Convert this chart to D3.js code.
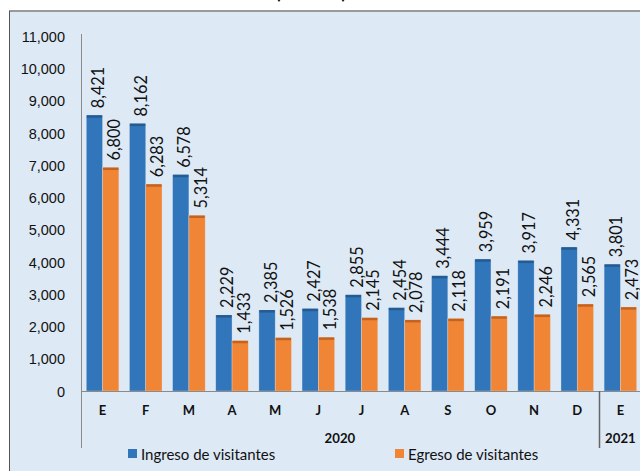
<!DOCTYPE html>
<html>
<head>
<meta charset="utf-8">
<script src="https://cdn.jsdelivr.net/npm/d3@7"></script>
<style>
  body { margin: 0; background: #fff; }
  svg { display: block; font-family: Lato, "Open Sans", sans-serif; }
</style>
</head>
<body>
<div id="chart"></div>
<script>
// Chart data
const months = ["E", "F", "M", "A", "M", "J", "J", "A", "S", "O", "N", "D", "E"];
const years = [
  { label: "2020", from: 0, to: 11 },
  { label: "2021", from: 12, to: 12 }
];
const ingreso = [8421, 8162, 6578, 2229, 2385, 2427, 2855, 2454, 3444, 3959, 3917, 4331, 3801];
const egreso = [6800, 6283, 5314, 1433, 1526, 1538, 2145, 2078, 2118, 2191, 2246, 2565, 2473];
const seriesNames = ["Ingreso de visitantes", "Egreso de visitantes"];
const yTicks = d3.range(0, 11001, 1000);

const colors = { Ingreso: "#3176ba", Egreso: "#f08536" };
const capColors = { Ingreso: "#245b92", Egreso: "#c4631f" };

const width = 640, height = 471;
const margin = { top: 36, left: 81, bottom: 80 };
const plotRight = 642;
const baseY = 391;
const capH = 4;

const svg = d3.select("#chart").append("svg")
  .attr("width", width)
  .attr("height", height);

// chart area background + frame
svg.append("rect")
  .attr("x", 9).attr("y", 11)
  .attr("width", width).attr("height", height)
  .attr("fill", "#dde9f5");
svg.append("line")
  .attr("x1", 9).attr("x2", width).attr("y1", 11).attr("y2", 11)
  .attr("stroke", "#9a9a9a").attr("stroke-width", 2);
svg.append("line")
  .attr("x1", 9.5).attr("x2", 9.5).attr("y1", 11).attr("y2", height)
  .attr("stroke", "#555").attr("stroke-width", 1);

// title (mostly cut off above the picture, as in the original)
svg.append("text")
  .attr("x", 311).attr("y", -1)
  .attr("text-anchor", "middle")
  .style("font-weight", "bold")
  .style("font-size", "17px")
  .text("(Número)");

// Scales
const xScale = d3.scaleBand()
  .domain(d3.range(months.length))
  .range([margin.left, plotRight])
  .paddingInner(0.245)
  .paddingOuter(0.1225);

const xSub = d3.scaleBand()
  .domain(["Ingreso", "Egreso"])
  .range([0, xScale.bandwidth()]);

const yScale = d3.scaleLinear()
  .domain([0, 11000])
  .range([baseY, margin.top]);

// Y axis
const yAxis = d3.axisLeft(yScale)
  .tickValues(yTicks)
  .tickSize(0)
  .tickPadding(16)
  .tickFormat(d3.format(","));

const yAxisGroup = svg.append("g")
  .attr("transform", `translate(${margin.left},0)`)
  .call(yAxis);
yAxisGroup.select(".domain").attr("stroke", "#8a8a8a").attr("d", `M0.5,${yScale(11000) - 2}V${baseY}`);
yAxisGroup.selectAll("text")
  .style("font-size", "14.5px")
  .attr("fill", "#111")
  .attr("dy", "0.36em");

// Bars
const rows = months.map((m, i) => ({ i, Ingreso: ingreso[i], Egreso: egreso[i] }));

const groups = svg.append("g").selectAll("g")
  .data(rows)
  .join("g")
  .attr("transform", d => `translate(${xScale(d.i)},0)`);

const bars = groups.selectAll("g.bar")
  .data(d => ["Ingreso", "Egreso"].map(k => ({ key: k, value: d[k] })))
  .join("g")
  .attr("class", "bar");

bars.append("rect")
  .attr("x", d => xSub(d.key))
  .attr("y", d => yScale(d.value) - capH)
  .attr("width", xSub.bandwidth())
  .attr("height", d => baseY - yScale(d.value) + capH)
  .attr("fill", d => colors[d.key])
  .attr("stroke", "#e8eef6")
  .attr("stroke-opacity", 0.5)
  .attr("stroke-width", 0.6);

bars.append("rect")
  .attr("x", d => xSub(d.key) + 0.5)
  .attr("y", d => yScale(d.value) - capH)
  .attr("width", xSub.bandwidth() - 1)
  .attr("height", 2.5)
  .attr("fill", d => capColors[d.key]);

// data labels
bars.append("text")
  .attr("transform", d => `translate(${xSub(d.key) + xSub.bandwidth() / 2 + 9.5},${yScale(d.value) - capH - 7}) rotate(-90)`)
  .attr("text-anchor", "start")
  .style("font-size", "16.3px")
  .attr("fill", "#111")
  .text(d => d3.format(",")(d.value));

// X axis (two-level category axis)
const axisColor = "#8a8a8a";
svg.append("line")
  .attr("x1", margin.left).attr("x2", plotRight)
  .attr("y1", baseY + 0.5).attr("y2", baseY + 0.5)
  .attr("stroke", axisColor);

svg.append("g").selectAll("text")
  .data(months)
  .join("text")
  .attr("x", (d, i) => xScale(i) + xScale.bandwidth() / 2)
  .attr("y", 415)
  .attr("text-anchor", "middle")
  .style("font-size", "13px")
  .style("font-weight", "bold")
  .attr("fill", "#111")
  .text(d => d);

const step = xScale.step();
const catLeft = i => xScale(i) - step * xScale.paddingInner() / 2;

// separators between years
svg.append("g").selectAll("line")
  .data(years)
  .join("line")
  .attr("x1", d => Math.round(catLeft(d.from)) + 0.5)
  .attr("x2", d => Math.round(catLeft(d.from)) + 0.5)
  .attr("y1", baseY)
  .attr("y2", 448)
  .attr("stroke", (d, i) => i === 0 ? axisColor : "#666")
  .attr("stroke-width", (d, i) => i === 0 ? 1 : 1.5);

svg.append("g").selectAll("text")
  .data(years)
  .join("text")
  .attr("x", d => (catLeft(d.from) + catLeft(d.to) + step) / 2)
  .attr("y", 443)
  .attr("text-anchor", "middle")
  .style("font-size", "13.2px")
  .style("font-weight", "bold")
  .attr("fill", "#111")
  .text(d => d.label);

// Legend
const legendX = [128, 395];
const legend = svg.append("g").selectAll("g")
  .data(seriesNames)
  .join("g")
  .attr("transform", (d, i) => `translate(${legendX[i]},449)`);

legend.append("rect")
  .attr("width", 9).attr("height", 9)
  .attr("fill", (d, i) => i === 0 ? colors.Ingreso : colors.Egreso);

legend.append("text")
  .attr("x", 13)
  .attr("y", 11)
  .style("font-size", "15px")
  .attr("fill", "#111")
  .text(d => d);
</script>
</body>
</html>
